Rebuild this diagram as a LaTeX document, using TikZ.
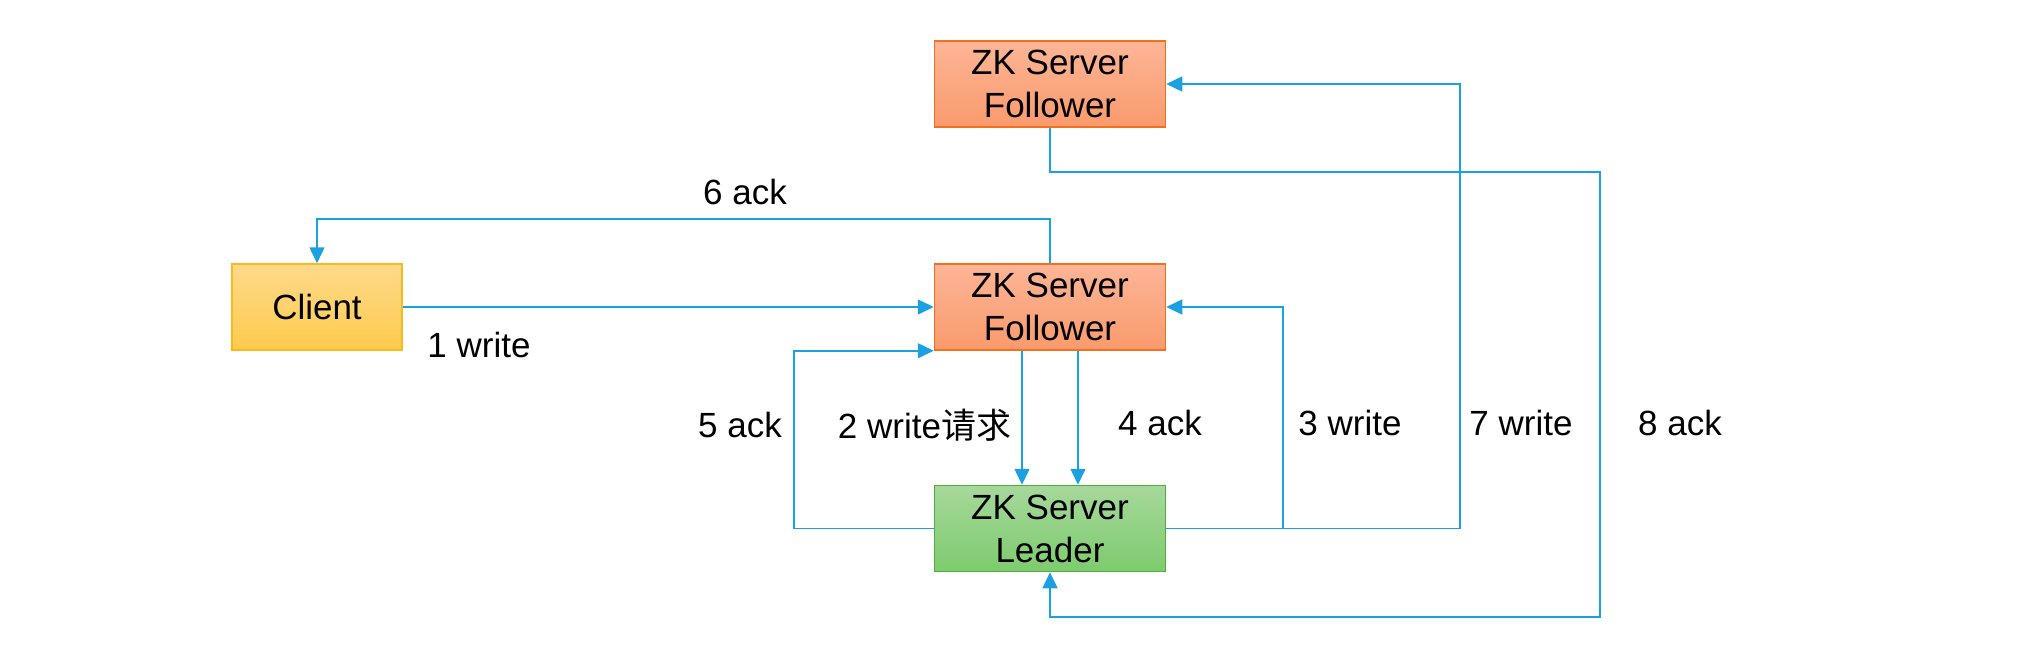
\documentclass[tikz,border=0pt]{standalone}
\usepackage{fontspec}
\setmainfont{Liberation Sans}
\newfontfamily\cjk{Noto Sans CJK SC}
\usetikzlibrary{arrows.meta}
\definecolor{lineblue}{HTML}{1BA1E2}
\definecolor{fotop}{HTML}{FDB597}
\definecolor{fobot}{HTML}{FA9A6C}
\definecolor{foborder}{HTML}{F37021}
\definecolor{ldtop}{HTML}{A6D89B}
\definecolor{ldbot}{HTML}{7ECB6E}
\definecolor{ldborder}{HTML}{4FAF3A}
\definecolor{cltop}{HTML}{FED98A}
\definecolor{clbot}{HTML}{FDCB4D}
\definecolor{clborder}{HTML}{FBBA1A}
\begin{document}
\begin{tikzpicture}[x=0.5pt,y=-0.5pt,
  box/.style={draw, line width=0.75pt, minimum width=115.5pt, minimum height=43pt,
    inner sep=0pt, align=center, font=\fontsize{17.5}{21.5}\selectfont},
  follower/.style={box, draw=foborder, top color=fotop, bottom color=fobot},
  leaderbox/.style={box, draw=ldborder, top color=ldtop, bottom color=ldbot},
  clientbox/.style={box, draw=clborder, top color=cltop, bottom color=clbot, minimum width=85pt},
  conn/.style={draw=lineblue, line width=0.75pt, -{Triangle[length=8pt,width=7.5pt]}},
  lbl/.style={font=\fontsize{17.5}{21.5}\selectfont, inner sep=0pt}]
\useasboundingbox (0,0) rectangle (2032,654);
\node[follower] (f1) at (1050,84) {ZK Server\\Follower};
\node[follower] (f2) at (1050,307) {ZK Server\\Follower};
\node[leaderbox] (ld) at (1050,528.5) {ZK Server\\Leader};
\node[clientbox] (cl) at (317,307) {Client};
\coordinate (c6) at (1050,219);
\coordinate (c5) at (794,0);
\coordinate (c3) at (1283,0);
\coordinate (c7) at (1460,0);
\coordinate (c8a) at (1600,172);
\coordinate (c8b) at (1600,617);
% 1 write
\draw[conn] (cl.east) -- (f2.west);
% 6 ack
\draw[conn] (f2.north) -- (c6) -| (cl.north);
% 5 ack
\draw[conn] (ld.west) -- (ld.west -| c5) |- (f2.south west);
% 2 write / 4 ack
\draw[conn] ([xshift=-14pt]f2.south) -- ([xshift=-14pt]ld.north);
\draw[conn] ([xshift=14pt]f2.south) -- ([xshift=14pt]ld.north);
% 3 write
\draw[conn] (ld.east) -- (ld.east -| c3) |- (f2.east);
% 7 write
\draw[conn] (ld.east) -- (ld.east -| c7) |- (f1.east);
% 8 ack
\draw[conn] (f1.south) |- (c8a) -- (c8b) -| (ld.south);
% labels
\node[lbl] (l6) at (745,192) {6 ack};
\node[lbl] (l1) at (479,345) {1 write};
\node[lbl] (l5) at (740,425) {5 ack};
\node[lbl] (l2) at (924.5,425) {2 write{\cjk 请求}};
\node[lbl] (l4) at (1160,423) {4 ack};
\node[lbl] (l3) at (1350,423) {3 write};
\node[lbl] (l7) at (1521,423) {7 write};
\node[lbl] (l8) at (1680,423) {8 ack};
\end{tikzpicture}
\end{document}
